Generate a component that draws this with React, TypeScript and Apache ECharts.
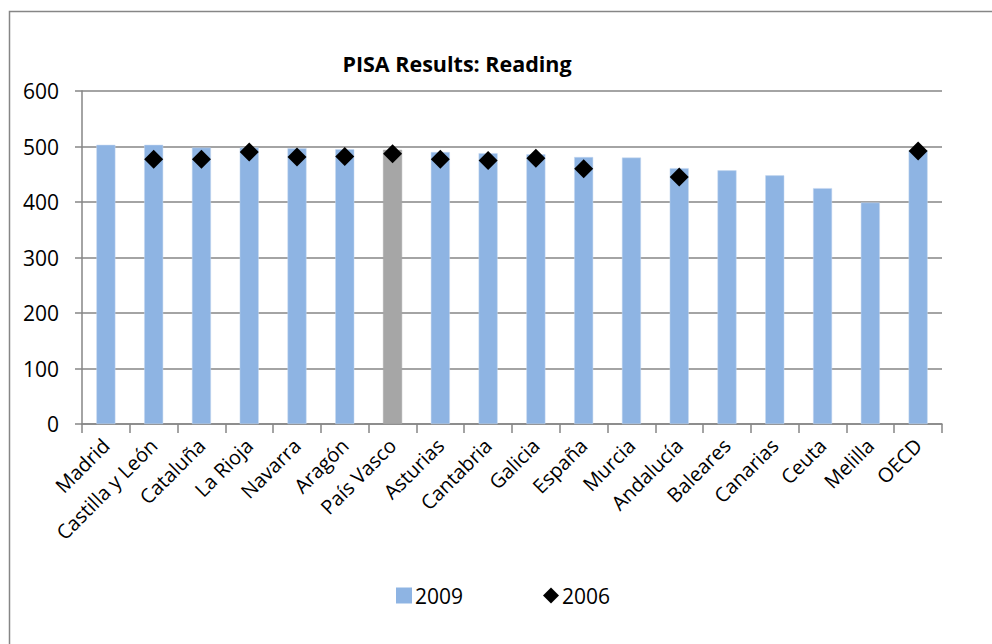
import React, { useEffect, useRef } from "react";
import * as echarts from "echarts";

const categories = [
  "Madrid", "Castilla y León", "Cataluña", "La Rioja", "Navarra", "Aragón",
  "País Vasco", "Asturias", "Cantabria", "Galicia", "España", "Murcia",
  "Andalucía", "Baleares", "Canarias", "Ceuta", "Melilla", "OECD",
];
const values2009 = [503, 503, 498, 498, 497, 495, 494, 490, 488, 486, 481, 480, 461, 457, 448, 425, 399, 493];
const values2006: (number | null)[] = [null, 477, 477, 490, 481, 482, 487, 477, 475, 479, 460, null, 445, null, null, null, null, 492];
const highlightCategory = "País Vasco";
const yTicks = { min: 0, max: 600, interval: 100 };

const BLUE = "#8EB4E3";
const GRAY = "#A6A6A6";
const LINE = "#868686";
const FONT = "'Open Sans', 'DejaVu Sans', sans-serif";

export default function App() {
  const ref = useRef<HTMLDivElement>(null);
  useEffect(() => {
    if (!ref.current) return;
    const chart = echarts.init(ref.current, null, { renderer: "svg" });
    chart.setOption({
      animation: false,
      backgroundColor: "#fff",
      textStyle: { fontFamily: FONT },
      title: {
        text: "PISA Results: Reading",
        left: 452,
        top: 47,
        textAlign: "center",
        textStyle: { fontFamily: FONT, fontWeight: "bold", fontSize: 21.5, color: "#000" },
      },
      graphic: [
        {
          type: "rect",
          shape: { x: 9.5, y: 11.5, width: 1100, height: 800 },
          style: { fill: "none", stroke: LINE, lineWidth: 1.5 },
          silent: true,
        },
      ],
      legend: {
        top: 580,
        left: 391,
        itemGap: 80,
        itemWidth: 16,
        itemHeight: 16,
        textStyle: { fontFamily: FONT, fontSize: 21, color: "#000", padding: [0, 0, 0, -2] },
        data: [
          { name: "2009", icon: "rect", itemStyle: { color: BLUE } },
          { name: "2006", icon: "diamond", itemStyle: { color: "#000", opacity: 1 } },
        ],
      },
      grid: { left: 82, right: 50, top: 91, bottom: 220, containLabel: false },
      xAxis: {
        type: "category",
        data: categories,
        axisLine: { lineStyle: { color: LINE, width: 1.5 } },
        axisTick: { show: true, length: 9, lineStyle: { color: LINE, width: 1.5 } },
        axisLabel: {
          rotate: 45,
          interval: 0,
          margin: 18,
          fontSize: 20,
          color: "#000",
          fontFamily: FONT,
        },
      },
      yAxis: {
        type: "value",
        min: yTicks.min,
        max: yTicks.max,
        interval: yTicks.interval,
        axisLine: { show: true, lineStyle: { color: LINE, width: 1.5 } },
        axisTick: { show: true, length: 7, lineStyle: { color: LINE, width: 1.5 } },
        axisLabel: { margin: 23, fontSize: 21, color: "#000", fontFamily: FONT },
        splitLine: { lineStyle: { color: LINE, width: 1.5 } },
      },
      series: [
        {
          name: "2009",
          type: "bar",
          barWidth: 19,
          data: values2009.map((v, i) => ({
            value: v,
            itemStyle: {
              color: categories[i] === highlightCategory ? GRAY : BLUE,
              borderColor: categories[i] === highlightCategory ? GRAY : "#C6D9F1",
              borderWidth: 0.5,
            },
          })),
          z: 2,
        },
        {
          name: "2006",
          type: "scatter",
          symbol: "diamond",
          symbolSize: 19,
          itemStyle: { color: "#000", opacity: 1 },
          data: values2006.map((v) => (v === null ? "-" : v)),
          z: 3,
        },
      ],
    });
    return () => chart.dispose();
  }, []);
  return (
    <div
      ref={ref}
      style={{ position: "absolute", left: 0, top: 0, width: 992, height: 644, overflow: "hidden" }}
    />
  );
}
